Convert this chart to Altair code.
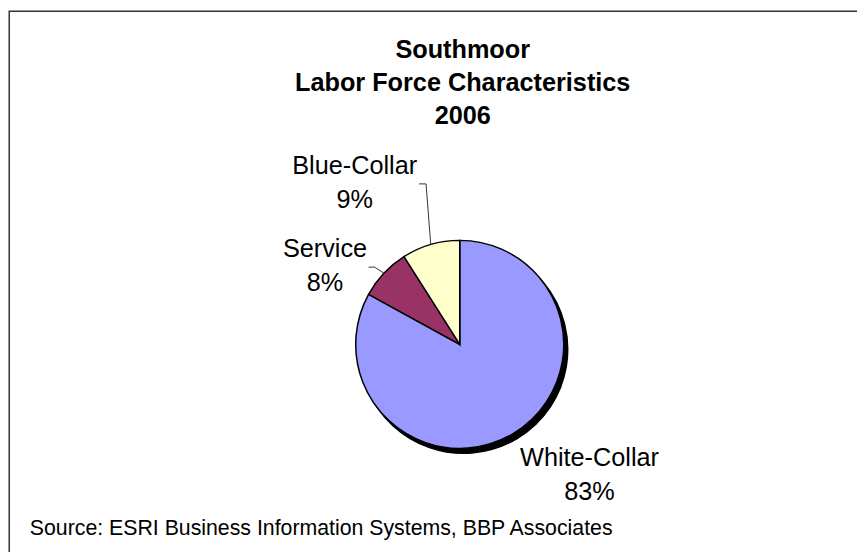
import math
import altair as alt
import pandas as pd

# ---------------- data ----------------
categories = ["White-Collar", "Service", "Blue-Collar"]
shares = [83, 8, 9]
colors = ["#9999FF", "#993366", "#FFFFCC"]
title_lines = ["Southmoor", "Labor Force Characteristics", "2006"]
source_note = "Source: ESRI Business Information Systems, BBP Associates"

# ---------------- layout (pixels) ----------------
W, H = 857, 544
CX, CY, R = 456, 337, 105
SHADOW_DX, SHADOW_DY = 4, 5
FONT = "Liberation Sans"
TITLE_X, TITLE_Y0, TITLE_STEP = 459, 48, 33.5
LABEL_STEP = 34
label_anchor = {"White-Collar": (587, 460), "Service": (320, 249), "Blue-Collar": (350, 165)}
leader_tick = {"Service": (364, 259, 6), "Blue-Collar": (415, 175, 7)}

# ---------------- derived tables ----------------
total = sum(shares)
cum = 0.0
mids = []
for v in shares:
    mids.append((cum + v / 2) / total * 2 * math.pi)
    cum += v

pie_df = pd.DataFrame({"category": categories, "share": shares, "order": list(range(len(categories)))})

lab_rows = []
for c, v in zip(categories, shares):
    lx, ly = label_anchor[c]
    lab_rows.append({"category": c, "text": f"{c}\n{v}%", "lx": lx, "ly": ly})
lab_df = pd.DataFrame(lab_rows)

lead_rows = []
for c, m in zip(categories, mids):
    if c not in leader_tick:
        continue
    sx, sy, tl = leader_tick[c]
    ex = CX + R * math.sin(m)
    ey = CY - R * math.cos(m)
    lead_rows += [
        {"category": c, "i": 0, "px": sx, "py": sy},
        {"category": c, "i": 1, "px": sx + tl, "py": sy},
        {"category": c, "i": 2, "px": ex, "py": ey},
    ]
lead_df = pd.DataFrame(lead_rows)

title_df = pd.DataFrame({"line": title_lines,
                         "ty": [TITLE_Y0 + i * TITLE_STEP for i in range(len(title_lines))]})
src_df = pd.DataFrame({"t": [source_note]})
one = pd.DataFrame({"a": [0]})

color_scale = alt.Scale(domain=categories, range=colors)
theta = alt.Theta("share:Q", stack=True)

frame = alt.Chart(one).mark_rect(fillOpacity=0, stroke="#333333", strokeWidth=1.5).encode(
    x=alt.value(1.25), x2=alt.value(W + 60), y=alt.value(0.75), y2=alt.value(H + 60)
)

shadow = alt.Chart(pie_df).mark_arc(radius=R, fill="black", stroke="black", strokeWidth=1.5).encode(
    theta=theta, order=alt.Order("order:Q"),
    x=alt.value(CX + SHADOW_DX), y=alt.value(CY + SHADOW_DY)
)

pie = alt.Chart(pie_df).mark_arc(radius=R, stroke="black", strokeWidth=1.5).encode(
    theta=theta, order=alt.Order("order:Q"),
    color=alt.Color("category:N", scale=color_scale, legend=None),
    x=alt.value(CX), y=alt.value(CY)
)

leaders = alt.Chart(lead_df).mark_line(color="#333333", strokeWidth=1).encode(
    x=alt.X("px:Q", scale=None), y=alt.Y("py:Q", scale=None),
    detail="category:N", order="i:Q"
)

labels = alt.Chart(lab_df).mark_text(
    font=FONT, fontSize=25.5, color="black", align="center", baseline="alphabetic",
    lineBreak="\n", lineHeight=LABEL_STEP
).encode(
    x=alt.X("lx:Q", scale=None), y=alt.Y("ly:Q", scale=None), text="text:N"
)

title = alt.Chart(title_df).mark_text(
    font=FONT, fontSize=25.5, fontWeight="bold", color="black", align="center", baseline="alphabetic"
).encode(
    x=alt.value(TITLE_X), y=alt.Y("ty:Q", scale=None), text="line:N"
)

source = alt.Chart(src_df).mark_text(
    font=FONT, fontSize=21.5, color="black", align="left", baseline="alphabetic"
).encode(
    x=alt.value(22), y=alt.value(529), text="t:N"
)

chart = alt.layer(frame, shadow, pie, leaders, labels, title, source).properties(
    width=W, height=H, autosize=alt.AutoSizeParams(type="none"), padding=0, background="white"
).configure_view(stroke="transparent")

chart.save("out.html", embed_options={"renderer": "svg", "actions": False})
